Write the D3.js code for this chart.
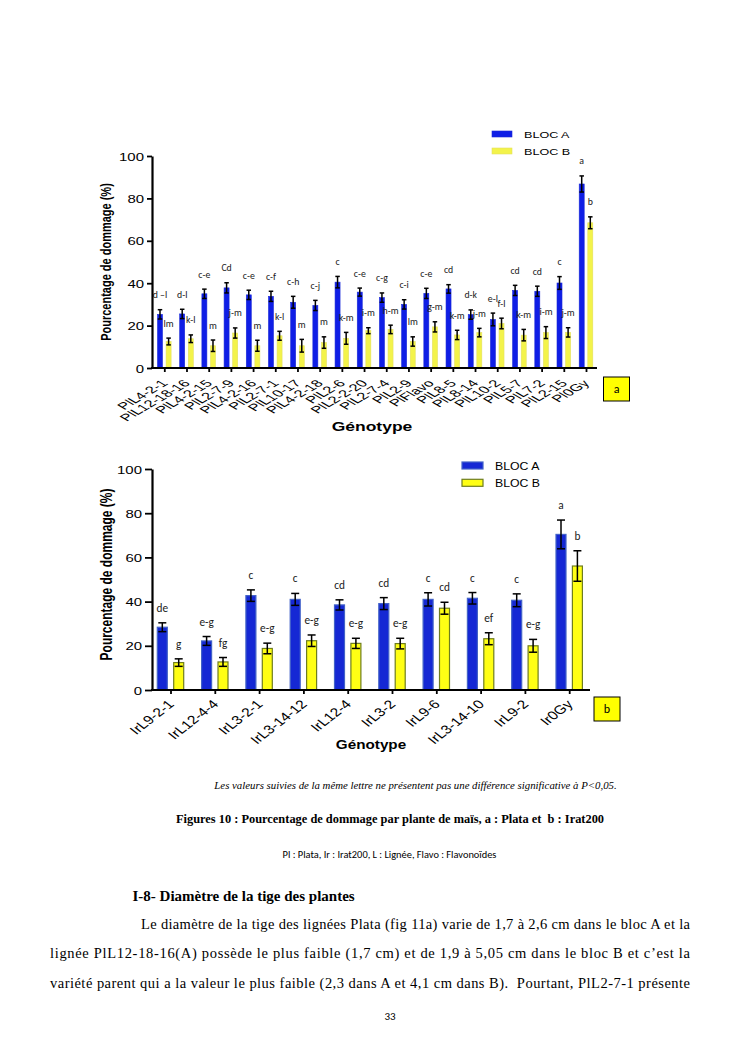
<!DOCTYPE html>
<html><head><meta charset="utf-8">
<script src="https://cdn.jsdelivr.net/npm/d3@7"></script>
<style>body{margin:0;background:#fff}svg{display:block}</style>
</head><body>
<svg id="page" width="745" height="1053"></svg>
<script>
// ---------- Data: Figure a (Plata) ----------
const genotypesA = ["PlL4-2-1","PlL12-18-16","PlL4-2-15","PlL2-7-9","PlL4-2-16","PlL2-7-1","PlL10-17","PlL4-2-18","PlL2-6","PlL2-2-20","PlL2-7-4","PlL2-9","PlFlavo","PlL8-5","PlL8-14","PlL10-2","PlL5-7","PlL7-2","PlL2-15","Pl0Gy"];
const blocA_a = [25.3,25.5,35,37.8,34.5,33.8,31,29.5,40.5,35.8,33.2,30,35.2,37.3,25.2,22.9,36.6,36.2,40.1,86.8];
const blocB_a = [12.5,13.8,10.5,16.5,10.5,15.2,10.5,12,14,17.6,18.2,12.5,19.4,15.6,16.7,21,15.5,16.7,16.8,68.5];
const errA_a = [2.2,2.2,2.2,2.4,2.2,2.4,2.8,2.4,2.7,1.9,2.2,2.2,2.4,2,2.2,3,2.4,2.4,3,3.8];
const errB_a = [1.6,1.8,2.7,2.4,2.6,2.1,3,2.7,2.8,1.4,2,2.2,2.4,2.2,2,2.5,2.7,2.8,2.2,2.8];
const lettersA_a = ["d \u2013l","d-l","c-e","Cd","c-e","c-f","c-h","c-j","c","c-e","c-g","c-i","c-e","cd","d-k","e-l","cd","cd","c","a"];
const lettersB_a = ["lm","k-l","m","j-m","m","k-l","m","m","k-m","i-m","h-m","lm","g-m","k-m","j-m","f-l","k-m","i-m","j-m","b"];

// ---------- Data: Figure b (Irat200) ----------
const genotypesB = ["IrL9-2-1","IrL12-4-4","IrL3-2-1","IrL3-14-12","IrL12-4","IrL3-2","IrL9-6","IrL3-14-10","IrL9-2","Ir0Gy"];
const blocA_b = [28.4,22.2,42.7,41,38.5,39.1,41,41.5,40.6,70.4];
const blocB_b = [12.4,12.7,18.8,22.3,21.1,21,37,23.2,20,56.1];
const errA_b = [2,2,2.6,2.7,2.3,2.7,3,2.6,2.9,6.5];
const errB_b = [1.7,2,2.4,2.6,2.3,2.4,2.7,2.7,2.9,6.9];
const lettersA_b = ["de","e-g","c","c","cd","cd","c","c","c","a"];
const lettersB_b = ["g","fg","e-g","e-g","e-g","e-g","cd","ef","e-g","b"];

const yTicks = [0,20,40,60,80,100];
const seriesNames = ["BLOC A","BLOC B"];

// ---------- Helpers ----------
const svg = d3.select("#page");
const SANS = "'Liberation Sans', Arial, Helvetica, sans-serif";
const SERIF = "'Liberation Serif', 'Times New Roman', serif";
const CAL = "Carlito, Lato, 'Open Sans', sans-serif";

function stext(g, x, y, str, o) {
  o = o || {};
  let tr = `translate(${x},${y})`;
  if (o.sx && o.sx !== 1) tr += ` scale(${o.sx},1)`;
  if (o.rot) tr += ` rotate(${o.rot})`;
  return g.append("text")
    .attr("transform", tr)
    .attr("text-anchor", o.anchor || "start")
    .attr("font-family", o.family || SANS)
    .attr("font-size", o.size || 12)
    .attr("font-weight", o.weight || "normal")
    .attr("font-style", o.style || "normal")
    .attr("fill", o.fill || "#000")
    .text(str);
}

function drawChart(cfg) {
  const g = svg.append("g");
  const y = d3.scaleLinear().domain([0,100]).range([cfg.y0, cfg.y100]);
  const x = d3.scalePoint().domain(cfg.genotypes).range(cfg.xr);
  const rows = cfg.genotypes.map((d,i) => ({g:d, a:cfg.a[i], b:cfg.b[i], ea:cfg.ea[i], eb:cfg.eb[i], la:cfg.la[i], lb:cfg.lb[i]}));

  const series = [
    {key:"a", err:"ea", lab:"la", off:-cfg.off, fill:cfg.blue, stroke:cfg.blueStroke},
    {key:"b", err:"eb", lab:"lb", off: cfg.off, fill:cfg.yellow, stroke:cfg.yellowStroke}
  ];
  series.forEach(s => {
    g.append("g").selectAll("rect").data(rows).join("rect")
      .attr("x", d => x(d.g) + s.off - cfg.bw/2)
      .attr("y", d => y(d[s.key]))
      .attr("width", cfg.bw)
      .attr("height", d => y(0) - y(d[s.key]))
      .attr("fill", s.fill)
      .attr("stroke", s.stroke)
      .attr("stroke-width", cfg.barStrokeW);
    const eg = g.append("g").attr("stroke", "#000").attr("stroke-width", 1.5);
    rows.forEach(d => {
      const cx = x(d.g) + s.off, v = d[s.key], e = d[s.err];
      eg.append("line").attr("x1", cx).attr("x2", cx).attr("y1", y(v+e)).attr("y2", y(v-e));
      eg.append("line").attr("x1", cx-cfg.cap/2).attr("x2", cx+cfg.cap/2).attr("y1", y(v+e)).attr("y2", y(v+e));
      eg.append("line").attr("x1", cx-cfg.cap/2).attr("x2", cx+cfg.cap/2).attr("y1", y(v-e)).attr("y2", y(v-e));
      stext(g, cx, y(v+e) - cfg.labOff, d[s.lab], {anchor:"middle", family:CAL, size:cfg.letterSize, fill:"#222"});
    });
  });

  // y axis
  const ya = g.append("g").attr("transform", `translate(${cfg.xAxis0},0)`)
    .call(d3.axisLeft(y).tickValues(yTicks).tickSize(cfg.yTickLen).tickSizeOuter(0).tickFormat(d3.format("d")));
  ya.select(".domain").attr("stroke-width", 2.2);
  ya.selectAll(".tick line").attr("stroke-width", 1.8);
  ya.selectAll(".tick text").attr("x", null).attr("dy", null)
    .attr("transform", `translate(${-cfg.yTickLen-3},${cfg.yTickSize*0.36}) scale(${cfg.sx},1)`)
    .attr("font-family", SANS).attr("font-size", cfg.yTickSize).attr("text-anchor","end").attr("fill","#000");

  // x axis
  const xa = g.append("g").attr("transform", `translate(0,${cfg.y0})`)
    .call(d3.axisBottom(x).tickSize(4).tickSizeOuter(0));
  xa.select(".domain").remove();
  xa.append("line").attr("x1", cfg.xAxis0 - 1).attr("x2", cfg.xAxis1).attr("y1", 0).attr("y2", 0)
    .attr("stroke", "#000").attr("stroke-width", 2.2);
  xa.selectAll(".tick line").attr("stroke-width", 1.8);
  xa.selectAll(".tick text").attr("y", null).attr("dy", null)
    .attr("transform", `translate(${cfg.xlDx},${cfg.xlDy}) scale(${cfg.sxX},1) rotate(-45)`)
    .attr("font-family", SANS).attr("font-size", cfg.xTickSize).attr("text-anchor","end").attr("fill","#000");

  // axis titles
  stext(g, cfg.ytX, (cfg.y0 + cfg.y100)/2 + cfg.ytDy, "Pourcentage de dommage (%)", {rot:-90, anchor:"middle", weight:"bold", size:cfg.ytSize, sx:1.3});
  stext(g, cfg.gX, cfg.gY, "Génotype", {anchor:"middle", weight:"bold", size:12.5, sx:cfg.gSx});

  // legend
  const lg = g.append("g");
  seriesNames.forEach((nm, i) => {
    lg.append("rect").attr("x", cfg.legX).attr("y", cfg.legY + i*cfg.legStep).attr("width", cfg.legW).attr("height", cfg.legH)
      .attr("fill", i ? cfg.yellow : cfg.blue).attr("stroke", i ? cfg.yellowStroke : cfg.blueStroke).attr("stroke-width", cfg.barStrokeW);
    stext(lg, cfg.legX + cfg.legW + 12, cfg.legY + i*cfg.legStep + cfg.legH + 0.5, nm, {size:cfg.legSize, sx:cfg.legSx});
  });

  // panel letter box
  g.append("rect").attr("x", cfg.box[0]).attr("y", cfg.box[1]).attr("width", 26).attr("height", 24)
    .attr("fill", "#ffff00").attr("stroke", "#000").attr("stroke-width", 1);
  stext(g, cfg.box[0] + 13, cfg.box[1] + 16, cfg.boxLabel, {anchor:"middle", family:CAL, size:12});
}

drawChart({
  genotypes: genotypesA, a: blocA_a, b: blocB_a, ea: errA_a, eb: errB_a, la: lettersA_a, lb: lettersB_a,
  y0: 368, y100: 156, xr: [164.3, 586], xAxis0: 152, xAxis1: 597,
  bw: 5, off: 4.3, cap: 4.5, barStrokeW: 0.6,
  blue: "#0f1ee6", blueStroke: "#1b2ad8", yellow: "#f3f34a", yellowStroke: "#e3e060",
  labOff: 11.5, letterSize: 9.8,
  yTickLen: 5, yTickSize: 11.5, sx: 1.3,
  xTickSize: 9.8, sxX: 1.7, xlDx: 4, xlDy: 16,
  ytX: 111, ytDy: 0, ytSize: 11,
  gX: 372, gY: 431, gSx: 1.4,
  legX: 492, legY: 131, legW: 20, legH: 6, legStep: 17, legSize: 9, legSx: 1.4,
  box: [603.5, 377], boxLabel: "a"
});

drawChart({
  genotypes: genotypesB, a: blocA_b, b: blocB_b, ea: errA_b, eb: errB_b, la: lettersA_b, lb: lettersB_b,
  y0: 690, y100: 469, xr: [170.5, 569.2], xAxis0: 152, xAxis1: 590,
  bw: 10, off: 8.2, cap: 8, barStrokeW: 1.2,
  blue: "#1528d4", blueStroke: "#4262c8", yellow: "#ffff14", yellowStroke: "#6f7e1e",
  labOff: 11, letterSize: 11.3,
  yTickLen: 7, yTickSize: 11.5, sx: 1.3,
  xTickSize: 12.2, sxX: 1.28, xlDx: 4, xlDy: 15,
  ytX: 111.5, ytDy: -5, ytSize: 12,
  gX: 371, gY: 749, gSx: 1.22,
  legX: 462, legY: 462, legW: 21, legH: 7, legStep: 17.3, legSize: 10, legSx: 1.23,
  box: [594, 697], boxLabel: "b"
});

// ---------- Page text ----------
const txt = svg.append("g");
stext(txt, 415.5, 788.5, "Les valeurs suivies de la même lettre ne présentent pas une différence significative à P<0,05.", {anchor:"middle", family:SERIF, style:"italic", size:10.8});
stext(txt, 390, 822.5, "Figures 10 : Pourcentage de dommage par plante de maïs, a : Plata et  b : Irat200", {anchor:"middle", family:SERIF, weight:"bold", size:12.4}).style("white-space","pre");
stext(txt, 389.5, 858, "Pl : Plata, Ir : Irat200, L : Lignée, Flavo : Flavonoïdes", {anchor:"middle", family:CAL, size:10.4});
stext(txt, 132.5, 901, "I-8- Diamètre de la tige des plantes", {family:SERIF, weight:"bold", size:15});
const para = [
  {x:141, y:928.5, w:549, t:"Le diamètre de la tige des lignées Plata (fig 11a) varie de 1,7 à 2,6 cm dans le bloc A et la"},
  {x:50, y:957.8, w:640, t:"lignée PlL12-18-16(A) possède le plus faible (1,7 cm) et de 1,9 à 5,05 cm dans le bloc B et c\u2019est la"},
  {x:50, y:987.5, w:640, t:"variété parent qui a la valeur le plus faible (2,3 dans A et 4,1 cm dans B).  Pourtant, PlL2-7-1 présente"}
];
para.forEach(p => {
  stext(txt, p.x, p.y, p.t, {family:SERIF, size:14.5}).attr("textLength", p.w).attr("lengthAdjust", "spacing").style("white-space","pre");
});
stext(txt, 390, 1019.5, "33", {anchor:"middle", family:CAL, size:11});
</script>
</body></html>
